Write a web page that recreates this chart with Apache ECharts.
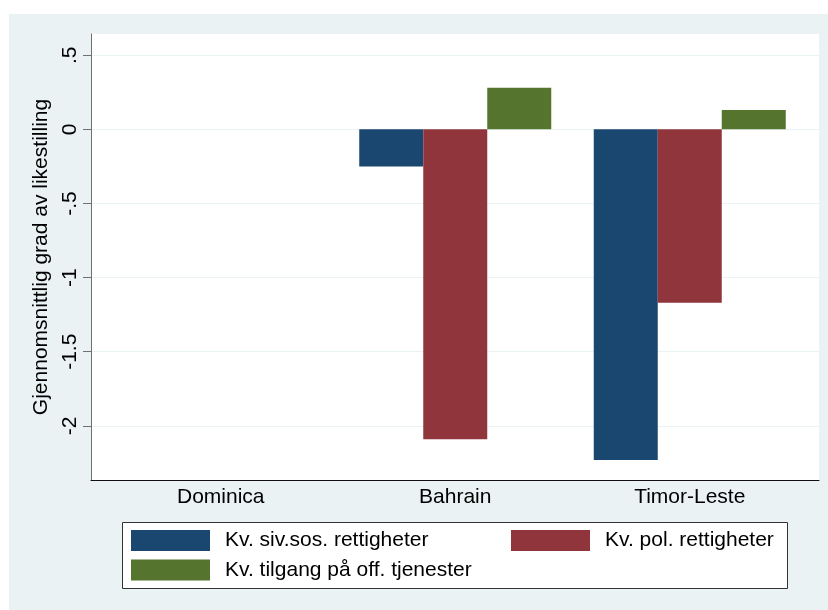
<!DOCTYPE html>
<html>
<head>
<meta charset="utf-8">
<script src="https://cdn.jsdelivr.net/npm/echarts@6/dist/echarts.min.js"></script>
<style>
  html, body { margin: 0; padding: 0; background: #fff; }
  #chart { width: 828px; height: 610px; }
</style>
</head>
<body>
<div id="chart"></div>
<script>
// Country groups and the three gender-equality indices
const categories = ['Dominica', 'Bahrain', 'Timor-Leste'];
const sivSos = [null, -0.25, -2.23];
const pol = [null, -2.09, -1.17];
const tilgang = [null, 0.28, 0.13];

const seriesNames = [
  'Kv. siv.sos. rettigheter',
  'Kv. pol. rettigheter',
  'Kv. tilgang på off. tjenester'
];

// Y axis ticks and their printed labels
const yTicks = [-2, -1.5, -1, -0.5, 0, 0.5];
const yTickLabels = ['-2', '-1.5', '-1', '-.5', '0', '.5'];
const yMin = -2.365;
const yMax = 0.643;

const colors = ['#1a476f', '#90353b', '#55752f'];
const font = "'Liberation Sans', Arial, Helvetica, sans-serif";
const textColor = '#000';
const fontSize = 21;

const chart = echarts.init(document.getElementById('chart'), null, { renderer: 'canvas' });

function tickLabel(v) {
  for (let i = 0; i < yTicks.length; i++) {
    if (Math.abs(yTicks[i] - v) < 1e-9) return yTickLabels[i];
  }
  return '';
}

const legendText = {
  fontSize: fontSize, color: textColor, fontFamily: font, lineHeight: 21,
  padding: [0, 0, 0, 10]
};

const option = {
  animation: false,
  backgroundColor: '#fff',
  textStyle: { fontFamily: font },
  graphic: [
    {
      type: 'rect', z: -100, silent: true,
      shape: { x: 9, y: 14, width: 819, height: 596 },
      style: { fill: '#eaf2f3' }
    },
    {
      type: 'rect', z: 1, silent: true,
      shape: { x: 122.5, y: 522.5, width: 665, height: 66 },
      style: { fill: '#fff', stroke: '#333', lineWidth: 1 }
    }
  ],
  grid: [
    { left: 91, top: 34, width: 728, height: 446, show: true, backgroundColor: '#fff', borderWidth: 0 },
    { left: 103.5, top: 34, width: 703.5, height: 446, show: false }
  ],
  xAxis: [
    {
      gridIndex: 0, type: 'category', data: categories,
      axisLine: { show: true, onZero: false, lineStyle: { color: '#111', width: 1 } },
      axisTick: { show: false }, axisLabel: { show: false }, splitLine: { show: false }
    },
    {
      gridIndex: 1, type: 'category', data: categories,
      axisLine: { show: false, onZero: false }, axisTick: { show: false },
      axisLabel: { show: true, fontSize: fontSize, color: textColor, fontFamily: font, margin: 7 },
      splitLine: { show: false }
    }
  ],
  yAxis: [
    {
      gridIndex: 0, type: 'value', min: yMin, max: yMax,
      name: 'Gjennomsnittlig grad av likestilling',
      nameLocation: 'middle', nameGap: 35,
      nameTextStyle: { fontSize: fontSize, color: textColor, fontFamily: font },
      axisLine: { show: true, lineStyle: { color: '#707070', width: 1 } },
      axisTick: { show: true, length: 8, customValues: yTicks, lineStyle: { color: '#707070', width: 1 } },
      axisLabel: {
        show: true, rotate: 90, fontSize: fontSize, color: textColor, fontFamily: font,
        margin: 10, customValues: yTicks, formatter: tickLabel
      },
      splitLine: { show: true, lineStyle: { color: '#eaf2f3', width: 1 } }
    },
    {
      gridIndex: 1, type: 'value', min: yMin, max: yMax, show: false,
      splitLine: { show: false }
    }
  ],
  legend: [
    {
      left: 131, top: 530, orient: 'vertical', z: 5,
      data: [seriesNames[0], seriesNames[2]],
      icon: 'rect', itemWidth: 79, itemHeight: 21, itemGap: 8.5,
      padding: 0,
      textStyle: legendText
    },
    {
      left: 511, top: 530, orient: 'vertical', z: 5,
      data: [seriesNames[1]],
      icon: 'rect', itemWidth: 79, itemHeight: 21, itemGap: 8.5,
      padding: 0,
      textStyle: legendText
    }
  ],
  series: [
    { name: seriesNames[0], type: 'bar', xAxisIndex: 1, yAxisIndex: 1, data: sivSos,
      barWidth: 64, barGap: '0%', itemStyle: { color: colors[0] } },
    { name: seriesNames[1], type: 'bar', xAxisIndex: 1, yAxisIndex: 1, data: pol,
      barWidth: 64, barGap: '0%', itemStyle: { color: colors[1] } },
    { name: seriesNames[2], type: 'bar', xAxisIndex: 1, yAxisIndex: 1, data: tilgang,
      barWidth: 64, barGap: '0%', itemStyle: { color: colors[2] } }
  ]
};

chart.setOption(option);
</script>
</body>
</html>
